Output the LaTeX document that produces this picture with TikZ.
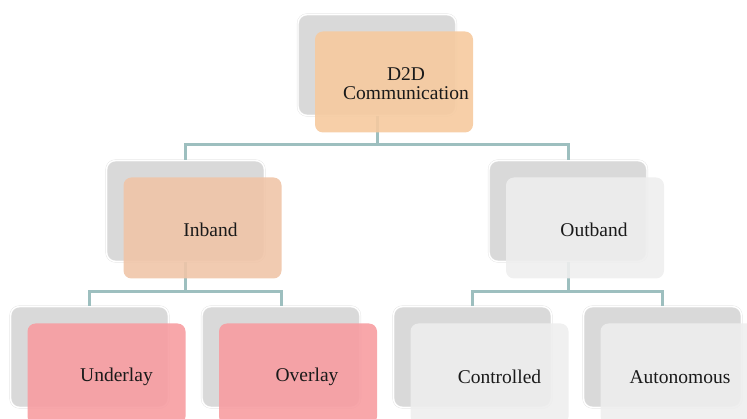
\documentclass[tikz,border=0pt]{standalone}
\usepackage{fontspec}
\setmainfont{Liberation Serif}
\usetikzlibrary{calc}
\definecolor{backgray}{HTML}{D9D9D9}
\definecolor{rootfront}{HTML}{F6CA9F}
\definecolor{bandfront}{HTML}{F0C5A8}
\definecolor{pinkfront}{HTML}{F79DA1}
\definecolor{grayfront}{HTML}{EEEEEE}
\definecolor{linkteal}{HTML}{9DBFBF}
\definecolor{textdark}{HTML}{1A1A1A}
\begin{document}
\begin{tikzpicture}[x=1pt,y=-1pt,
  backbox/.style={draw=black!10, double=white, double distance=1.4pt, line width=0.4pt,
    fill=backgray, rounded corners=9pt,
    minimum width=158pt, minimum height=101pt, inner sep=0pt},
  frontbox/.style={rounded corners=8pt, fill opacity=0.9,
    minimum width=158pt, minimum height=101pt, inner sep=0pt},
  link/.style={draw=linkteal, line width=3pt},
  lbl/.style={text=textdark, font=\fontsize{19.5}{19}\selectfont, align=center, inner sep=0pt}]
\useasboundingbox (0,0) rectangle (747,419);
\clip (0,0) rectangle (747,419);

% back panels
\node[backbox] (root) at (377,65) {};
\node[backbox] (inband) at (185.5,211) {};
\node[backbox] (outband) at (568,211) {};
\node[backbox] (underlay) at (89.5,357) {};
\node[backbox] (overlay) at (281,357) {};
\node[backbox] (controlled) at (472.5,357) {};
\node[backbox] (autonomous) at (662.5,357) {};

% connectors
\coordinate (rootbus) at (377,145);
\coordinate (inbus) at (185.5,292);
\coordinate (outbus) at (568,292);
\draw[link] (root.south) -- (rootbus);
\draw[link] (rootbus) -| (inband.north);
\draw[link] (rootbus) -| (outband.north);
\draw[link] (inband.south) -- (inbus);
\draw[link] (inbus) -| (underlay.north);
\draw[link] (inbus) -| (overlay.north);
\draw[link] (outband.south) -- (outbus);
\draw[link] (outbus) -| (controlled.north);
\draw[link] (outbus) -| (autonomous.north);

% front panels
\node[frontbox, fill=rootfront] (rootf) at ($(root)+(17,17)$) {};
\node[frontbox, fill=bandfront] (inbandf) at ($(inband)+(17,17)$) {};
\node[frontbox, fill=grayfront] (outbandf) at ($(outband)+(17,17)$) {};
\node[frontbox, fill=pinkfront] (underlayf) at ($(underlay)+(17,17)$) {};
\node[frontbox, fill=pinkfront] (overlayf) at ($(overlay)+(17,17)$) {};
\node[frontbox, fill=grayfront] (controlledf) at ($(controlled)+(17,17)$) {};
\node[frontbox, fill=grayfront] (autonomousf) at ($(autonomous)+(17,17)$) {};

% labels
\node[lbl] (rootl) at ($(rootf)+(12,2)$) {D2D\\Communication};
\node[lbl] (inbandl) at ($(inbandf)+(8,2)$) {Inband};
\node[lbl] (outbandl) at ($(outbandf)+(9,2)$) {Outband};
\node[lbl] (underlayl) at ($(underlayf)+(10,3)$) {Underlay};
\node[lbl] (overlayl) at ($(overlayf)+(9,3)$) {Overlay};
\node[lbl] (controlledl) at ($(controlledf)+(10,3)$) {Controlled};
\node[lbl] (autonomousl) at (680,377) {Autonomous};
\end{tikzpicture}
\end{document}
